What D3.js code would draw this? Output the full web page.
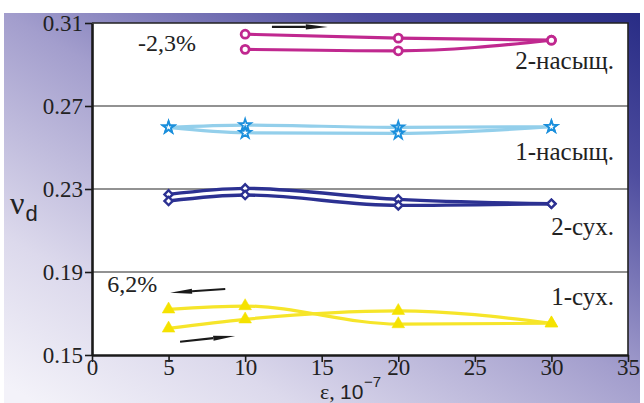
<!DOCTYPE html>
<html>
<head>
<meta charset="utf-8">
<script src="https://cdn.jsdelivr.net/npm/d3@7/dist/d3.min.js"></script>
<style>
  html, body { margin: 0; padding: 0; background: #fff; }
  svg { display: block; }
</style>
</head>
<body>
<svg id="chart" width="644" height="403"></svg>
<script>
// Strain amplitude, ε·10^-7
const strain = [5, 10, 20, 30];
const strainSat2 = [10, 20, 30];

// Damping ν_d – loading (upper) and unloading (lower) branches
const dry1Up     = [0.1720, 0.1736, 0.1649, 0.1653];
const dry1Down   = [0.1628, 0.1672, 0.1713, 0.1653];
const dry2Up     = [0.2274, 0.2303, 0.2250, 0.2229];
const dry2Down   = [0.2242, 0.2271, 0.2221, 0.2229];
const sat1Up     = [0.2597, 0.2608, 0.2597, 0.2600];
const sat1Down   = [0.2597, 0.2571, 0.2568, 0.2600];
const sat2Up     = [0.3046, 0.3027, 0.3017];
const sat2Down   = [0.2973, 0.2966, 0.3017];

const seriesNames = ["1-сух.", "2-сух.", "1-насыщ.", "2-насыщ."];
const changeLabels = ["6,2%", "-2,3%"];

const xTicks = [0, 5, 10, 15, 20, 25, 30, 35];
const yTicks = [0.15, 0.19, 0.23, 0.27, 0.31];

const svg = d3.select("#chart");
const serif = "'Liberation Serif', 'Times New Roman', serif";
const sans = "'Liberation Sans', Arial, sans-serif";

// ---- background panel with diagonal gradient ----
const defs = svg.append("defs");
const grad = defs.append("linearGradient")
  .attr("id", "bg").attr("x1", 0.05).attr("y1", 1).attr("x2", 1).attr("y2", 0);
[[0, "#f3f2f9"], [0.2, "#dcd9ec"], [0.5, "#a39ecd"], [0.78, "#4e4d9f"], [1, "#282c85"]]
  .forEach(([o, c]) => grad.append("stop").attr("offset", o).attr("stop-color", c));

svg.append("rect").attr("x", 4).attr("y", 13).attr("width", 636).attr("height", 390)
  .attr("fill", "url(#bg)");

// ---- scales ----
const x = d3.scaleLinear().domain([0, 35]).range([92, 628]);
const y = d3.scaleLinear().domain([0.15, 0.31]).range([355, 23]);

// plot area
svg.append("rect")
  .attr("x", x(0)).attr("y", y(0.31))
  .attr("width", x(35) - x(0)).attr("height", y(0.15) - y(0.31))
  .attr("fill", "#fff");

// grid lines
svg.append("g").selectAll("line")
  .data(yTicks.filter(t => t > 0.15 && t < 0.31))
  .join("line")
  .attr("x1", x(0)).attr("x2", x(35))
  .attr("y1", d => y(d)).attr("y2", d => y(d))
  .attr("stroke", "#6e6e6e").attr("stroke-width", 1.3);

// top and right frame
svg.append("path")
  .attr("d", `M${x(0)},${y(0.31)}H${x(35)}V${y(0.15)}`)
  .attr("fill", "none").attr("stroke", "#222").attr("stroke-width", 1.6);

// ---- axes ----
const xAxis = svg.append("g")
  .attr("transform", `translate(0,${y(0.15)})`)
  .call(d3.axisBottom(x).tickValues(xTicks).tickFormat(d3.format("d")).tickSizeInner(7).tickSizeOuter(0));
xAxis.select(".domain").attr("stroke", "#1a1a1a").attr("stroke-width", 2.6);
xAxis.selectAll(".tick line").attr("stroke", "#1a1a1a").attr("stroke-width", 1.6);
xAxis.selectAll(".tick text")
  .attr("y", 20).attr("dy", 0)
  .attr("font-family", serif).attr("font-size", 23).attr("fill", "#222");

const yAxis = svg.append("g")
  .attr("transform", `translate(${x(0)},0)`)
  .call(d3.axisLeft(y).tickValues(yTicks).tickFormat(d3.format(".2f")).tickSizeInner(7).tickSizeOuter(0));
yAxis.select(".domain").attr("stroke", "#1a1a1a").attr("stroke-width", 2.6);
yAxis.selectAll(".tick line").attr("stroke", "#1a1a1a").attr("stroke-width", 1.6);
yAxis.selectAll(".tick text")
  .attr("x", -9).attr("dy", "0.33em")
  .attr("font-family", serif).attr("font-size", 23).attr("fill", "#222");

// axis titles
svg.append("text").attr("x", 320).attr("y", 399)
  .attr("font-family", serif).attr("font-size", 22).attr("fill", "#222").text("ε,");
svg.append("text").attr("x", 340).attr("y", 399)
  .attr("font-family", sans).attr("font-size", 21).attr("fill", "#222").text("10");
svg.append("text").attr("x", 364).attr("y", 387)
  .attr("font-family", sans).attr("font-size", 15).attr("fill", "#222").text("−7");

const yt = svg.append("text").attr("x", 10).attr("y", 214).attr("fill", "#222");
yt.append("tspan").attr("font-family", serif).attr("font-size", 32).text("ν");
yt.append("tspan").attr("font-family", sans).attr("font-size", 22).attr("dx", 1).attr("dy", 7).text("d");

// ---- series ----
const line = d3.line().x(d => x(d[0])).y(d => y(d[1])).curve(d3.curveMonotoneX);
const zip = (xs, ys) => xs.map((v, i) => [v, ys[i]]);

function drawSeries(xs, branches, color, width) {
  const g = svg.append("g");
  branches.forEach(b => g.append("path")
    .attr("d", line(zip(xs, b)))
    .attr("fill", "none").attr("stroke", color)
    .attr("stroke-width", width).attr("stroke-linejoin", "round"));
  return g;
}

function drawMarkers(xs, branches, type, size, fill, stroke, sw, rot) {
  const pts = [];
  branches.forEach(b => zip(xs, b).forEach(p => pts.push(p)));
  svg.append("g").selectAll("path").data(pts).join("path")
    .attr("transform", d => `translate(${x(d[0])},${y(d[1])}) rotate(${rot || 0})`)
    .attr("d", d3.symbol().type(type).size(size))
    .attr("fill", fill).attr("stroke", stroke).attr("stroke-width", sw);
}

// 1 – dry
drawSeries(strain, [dry1Up, dry1Down], "#f6e52a", 3.2);
drawMarkers(strain, [dry1Up, dry1Down], d3.symbolTriangle, 70, "#f5e200", "#f5e200", 0.5);

// 2 – dry
drawSeries(strain, [dry2Up, dry2Down], "#2c3192", 3.4);
drawMarkers(strain, [dry2Up, dry2Down], d3.symbolSquare, 34, "#fff", "#2c3192", 2.4, 45);

// 1 – saturated
drawSeries(strain, [sat1Up, sat1Down], "#93cfeb", 3.2);
drawMarkers(strain, [sat1Up, sat1Down], d3.symbolStar, 42, "#fff", "#1b8fdc", 1.8);

// 2 – saturated
drawSeries(strainSat2, [sat2Up, sat2Down], "#c0288f", 3.2);
drawMarkers(strainSat2, [sat2Up, sat2Down], d3.symbolCircle, 50, "#fff", "#c0288f", 2.8);

// ---- series names ----
const nameY = [0.1741, 0.2080, 0.2440, 0.2878];
svg.append("g").selectAll("text").data(seriesNames).join("text")
  .attr("x", 614).attr("y", (d, i) => y(nameY[i]))
  .attr("text-anchor", "end")
  .attr("font-family", serif).attr("font-size", 25).attr("fill", "#222")
  .text(d => d);

// ---- change annotations ----
svg.append("text").attr("x", x(3.0)).attr("y", y(0.2965))
  .attr("font-family", serif).attr("font-size", 24).attr("fill", "#222")
  .text(changeLabels[1]);
svg.append("text").attr("x", x(1.0)).attr("y", y(0.1803))
  .attr("font-family", serif).attr("font-size", 24).attr("fill", "#222")
  .text(changeLabels[0]);

// direction arrows (tail → head, data space)
const arrows = [
  [[11.75, 0.3081], [15.4, 0.3081]],
  [[8.7, 0.1818], [5.1, 0.1800]],
  [[5.75, 0.1564], [9.35, 0.1592]]
];
arrows.forEach(([a, b]) => {
  const x0 = x(a[0]), y0 = y(a[1]), x1 = x(b[0]), y1 = y(b[1]);
  const len = Math.hypot(x1 - x0, y1 - y0);
  const ux = (x1 - x0) / len, uy = (y1 - y0) / len;
  const hl = 22, hw = 2.6;
  const bx = x1 - ux * hl, by = y1 - uy * hl;
  svg.append("line").attr("x1", x0).attr("y1", y0).attr("x2", bx).attr("y2", by)
    .attr("stroke", "#1a1a1a").attr("stroke-width", 2.2);
  svg.append("path")
    .attr("d", `M${x1},${y1}L${bx - uy * hw},${by + ux * hw}L${bx + uy * hw},${by - ux * hw}Z`)
    .attr("fill", "#1a1a1a");
});
</script>
</body>
</html>
